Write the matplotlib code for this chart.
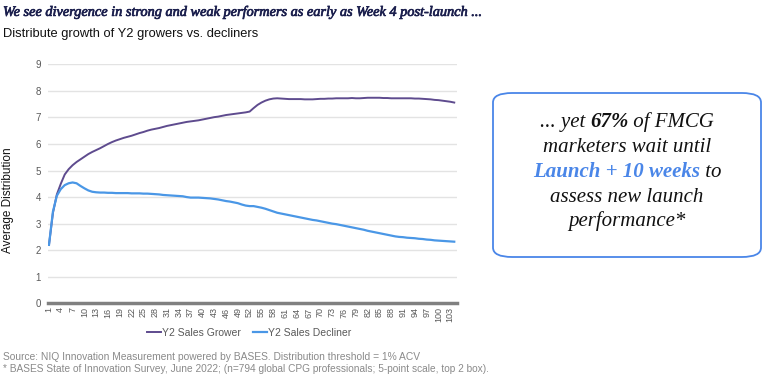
import numpy as np
import matplotlib
matplotlib.use("Agg")
import matplotlib.pyplot as plt
import matplotlib.patheffects as pe
from matplotlib.patches import FancyBboxPatch

# week index 1..104
weeks = list(range(1, 105))

grower = [2.2, 3.4, 4.1, 4.5, 4.85, 5.05, 5.2, 5.32, 5.42, 5.52,
          5.62, 5.7, 5.77, 5.84, 5.92, 6.0, 6.07, 6.13, 6.18, 6.23,
          6.27, 6.31, 6.36, 6.41, 6.45, 6.5, 6.54, 6.57, 6.6, 6.64,
          6.68, 6.71, 6.74, 6.77, 6.8, 6.83, 6.85, 6.87, 6.89, 6.92,
          6.95, 6.98, 7.01, 7.03, 7.06, 7.09, 7.11, 7.13, 7.15, 7.17,
          7.19, 7.22, 7.35, 7.47, 7.56, 7.63, 7.68, 7.71, 7.72, 7.71,
          7.7, 7.69, 7.69, 7.69, 7.69, 7.68, 7.68, 7.68, 7.69, 7.7,
          7.7, 7.71, 7.71, 7.72, 7.72, 7.72, 7.72, 7.73, 7.72, 7.72,
          7.73, 7.74, 7.74, 7.74, 7.74, 7.73, 7.73, 7.72, 7.72, 7.72,
          7.72, 7.72, 7.72, 7.71, 7.71, 7.7, 7.69, 7.68, 7.66, 7.65,
          7.63, 7.61, 7.59, 7.56]

decliner = [2.2, 3.45, 4.05, 4.3, 4.45, 4.52, 4.55, 4.52, 4.42, 4.33,
            4.25, 4.2, 4.18, 4.17, 4.17, 4.16, 4.16, 4.15, 4.15, 4.15,
            4.15, 4.14, 4.14, 4.14, 4.13, 4.13, 4.12, 4.11, 4.1, 4.08,
            4.07, 4.06, 4.05, 4.04, 4.03, 4.0, 3.98, 3.98, 3.98, 3.97,
            3.96, 3.95, 3.93, 3.91, 3.88, 3.85, 3.83, 3.8, 3.77, 3.72,
            3.68, 3.66, 3.66, 3.63, 3.6, 3.56, 3.51, 3.46, 3.41, 3.38,
            3.35, 3.32, 3.29, 3.26, 3.23, 3.2, 3.17, 3.14, 3.12, 3.09,
            3.06, 3.03, 3.0, 2.98, 2.95, 2.92, 2.89, 2.86, 2.83, 2.8,
            2.77, 2.73, 2.7, 2.67, 2.64, 2.61, 2.58, 2.55, 2.52, 2.5,
            2.49, 2.47, 2.46, 2.45, 2.43, 2.42, 2.4, 2.39, 2.37, 2.36,
            2.35, 2.34, 2.33, 2.32]

xtick_labels = [str(w) for w in range(1, 104, 3)]

GROWER_COL = "#5e4b8e"
DECLINER_COL = "#4a97e6"
NAVY = "#1b1f4d"
SERIF = ["Liberation Serif", "DejaVu Serif"]
SANS = ["Liberation Sans", "DejaVu Sans"]

fig = plt.figure(figsize=(7.65, 3.77), dpi=100)
ax = fig.add_axes([48 / 765, 1 - 303.3 / 377, (457 - 48) / 765, (303.3 - 64.3) / 377])

ax.plot(weeks, grower, color=GROWER_COL, lw=1.4, label="Y2 Sales Grower")
ax.plot(weeks, decliner, color=DECLINER_COL, lw=1.6, label="Y2 Sales Decliner")

ax.set_ylim(0, 9)
ax.set_xlim(0.75, 104.7)
ax.set_yticks(range(0, 10))
ax.set_xticks(range(1, 104, 3))
ax.set_xticklabels(xtick_labels, rotation=90, fontsize=6.5, color="#595959", family=SANS)
for lab in ax.get_yticklabels():
    lab.set_fontsize(7)
    lab.set_color("#595959")
    lab.set_family(SANS)
ax.tick_params(axis="both", length=0, pad=5)
ax.tick_params(axis="x", pad=3)
ax.grid(axis="y", color="#e3e3e3", lw=1)
ax.set_axisbelow(True)
for s in ["top", "right", "left"]:
    ax.spines[s].set_visible(False)
ax.spines["bottom"].set_color("#808080")
ax.spines["bottom"].set_linewidth(2.5)

# y label placed in figure coords
fig.text(8 / 765, 1 - 200 / 377, "Average Distribution", rotation=90, fontsize=8.5,
         family=SANS, color="#111111", va="center", ha="center")

handles, labels = ax.get_legend_handles_labels()
leg = fig.legend(handles, labels, loc="center", bbox_to_anchor=(249 / 765, 1 - 333 / 377),
                 ncol=2, frameon=False, handlelength=1.3, handletextpad=0.1,
                 columnspacing=1.2, prop={"family": SANS, "size": 7.5})
for t in leg.get_texts():
    t.set_color("#595959")

# headings
title = fig.text(3 / 765, 1 - 12 / 377,
                 "We see divergence in strong and weak performers as early as Week 4 post-launch ...",
                 family=SERIF, style="italic", fontsize=10.3, color=NAVY, va="center", ha="left")
title.set_path_effects([pe.withStroke(linewidth=0.5, foreground=NAVY)])
fig.text(3 / 765, 1 - 34 / 377, "Distribute growth of Y2 growers vs. decliners",
         family=SANS, fontsize=9.3, color="#111111", va="center", ha="left")

# footnotes
fig.text(3 / 765, 1 - 357 / 377,
         "Source: NIQ Innovation Measurement powered by BASES. Distribution threshold = 1% ACV",
         family=SANS, fontsize=7.4, color="#8a8a8a", va="center")
fig.text(3 / 765, 1 - 369 / 377,
         "* BASES State of Innovation Survey, June 2022; (n=794 global CPG professionals; 5-point scale, top 2 box).",
         family=SANS, fontsize=7.3, color="#8a8a8a", va="center")

# callout box
box = FancyBboxPatch((493 / 765, 1 - 257 / 377), (761 - 493) / 765, (257 - 93) / 377,
                     boxstyle="round,pad=0,rounding_size=0.025", transform=fig.transFigure,
                     facecolor="white", edgecolor="#4a86e8", lw=1.3)
fig.patches.append(box)

lines = [
    [("... yet ", "normal", "#111111"), ("67%", "bold", "#111111"), (" of FMCG", "normal", "#111111")],
    [("marketers wait until", "normal", "#111111")],
    [("Launch + 10 weeks", "bold", "#4a86e8"), (" to", "normal", "#111111")],
    [("assess new launch", "normal", "#111111")],
    [("performance*", "normal", "#111111")],
]
line_y = [122, 147, 172, 197, 221]
cx = 627
renderer = fig.canvas.get_renderer()
for parts, yy in zip(lines, line_y):
    objs = []
    for txt, wt, col in parts:
        objs.append(fig.text(0, 1 - yy / 377, txt, family=SERIF, style="italic", fontweight=wt,
                             fontsize=15, color=col, va="center", ha="left"))
    widths = [o.get_window_extent(renderer).width for o in objs]
    x0 = cx - sum(widths) / 2
    for o, w in zip(objs, widths):
        o.set_x(x0 / 765)
        x0 += w

fig.savefig("out.png", dpi=100)
